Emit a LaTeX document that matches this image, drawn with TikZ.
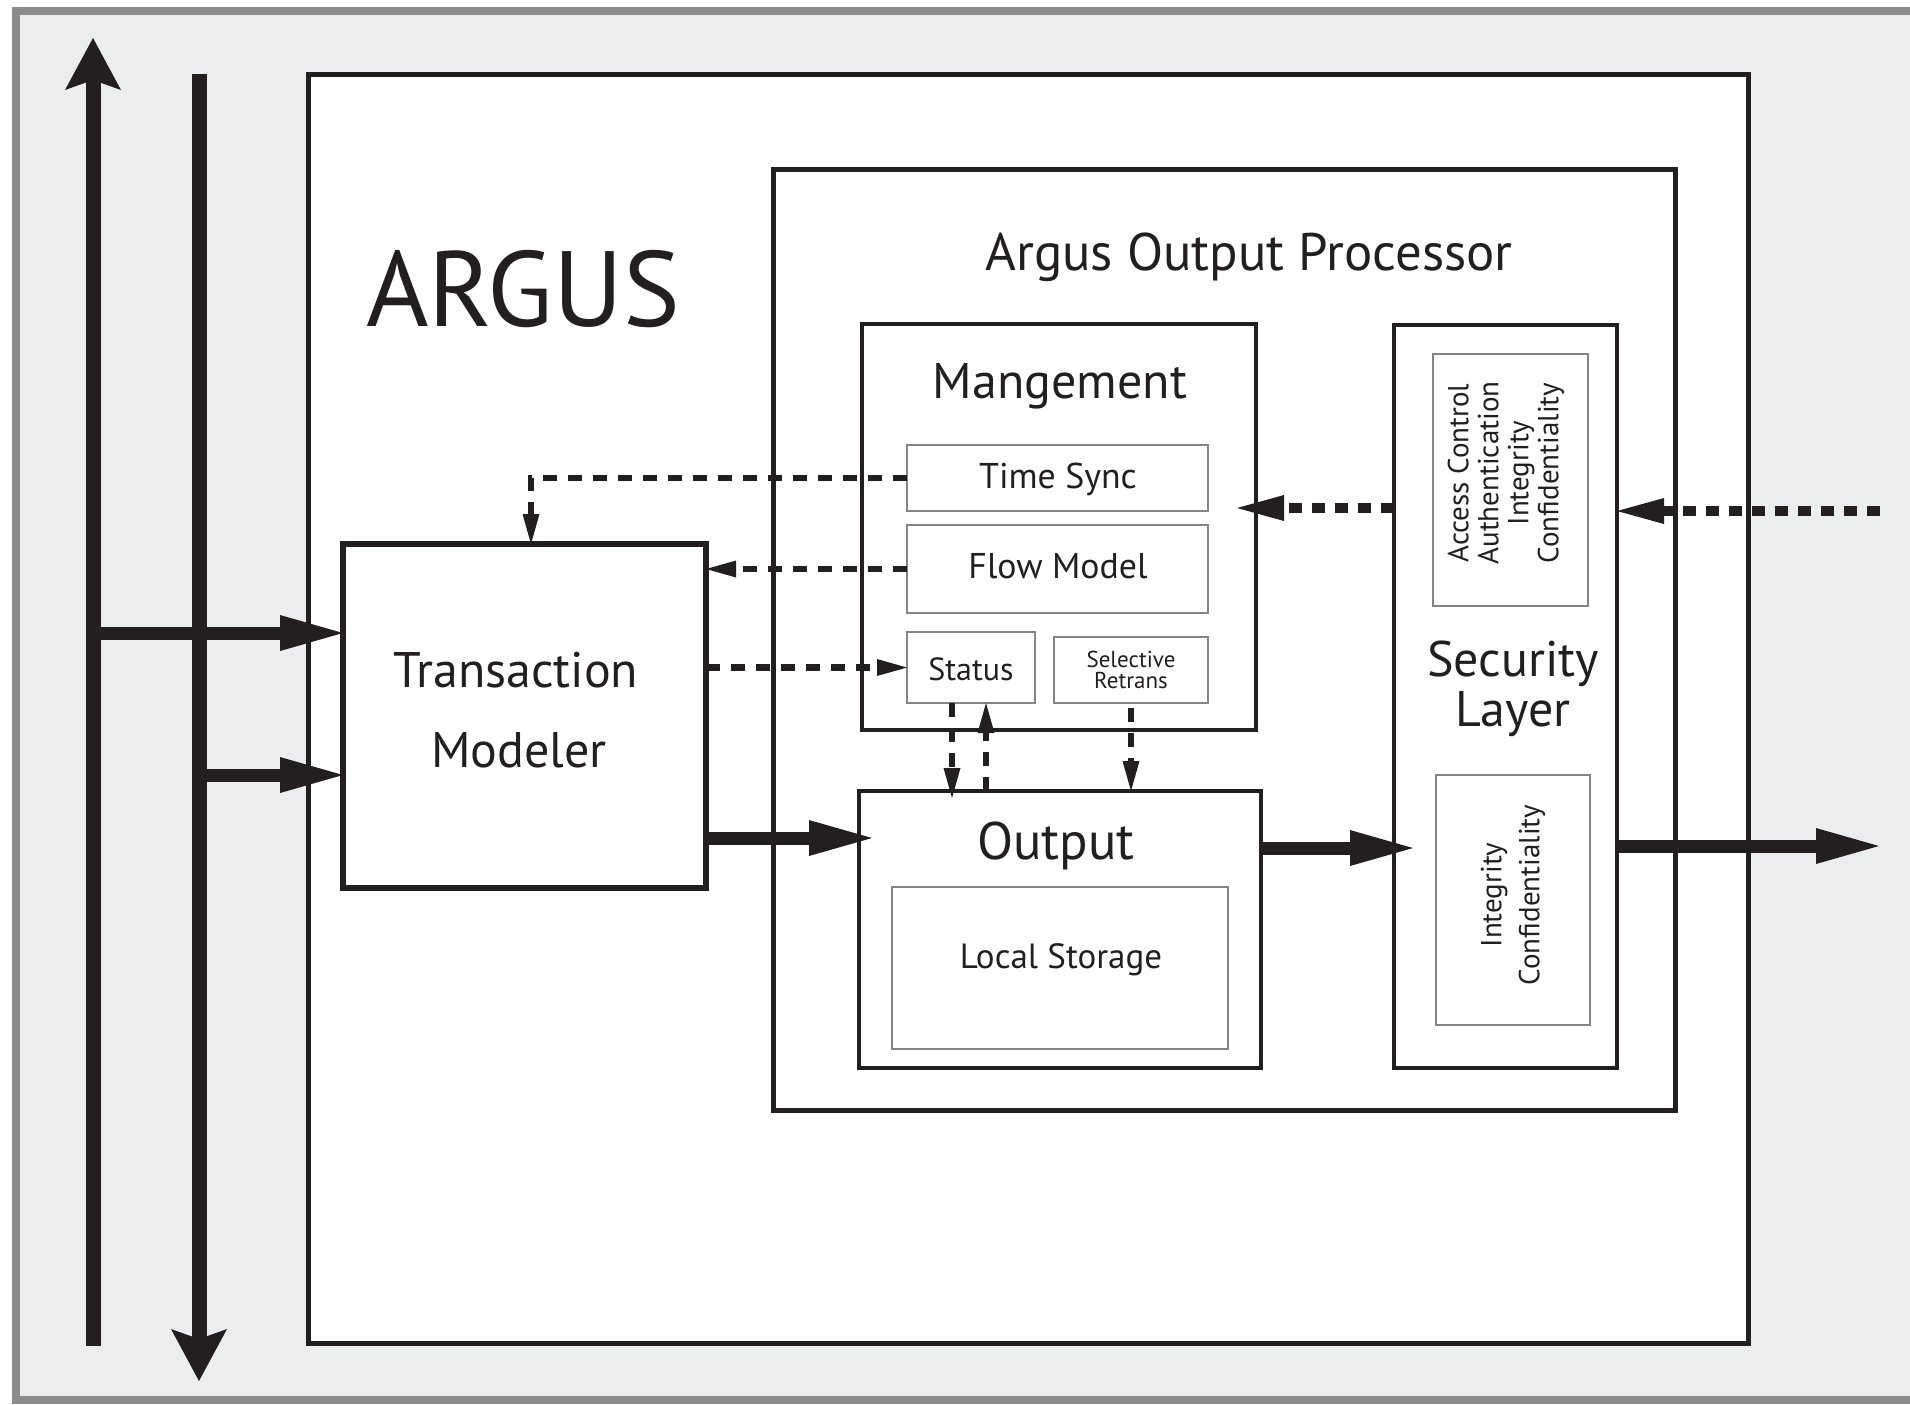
\documentclass[tikz,border=0pt]{standalone}
\usepackage{fontspec}
\setmainfont{PT Sans}
\usetikzlibrary{arrows.meta,calc}
\definecolor{inkc}{HTML}{231F20}
\definecolor{bggray}{HTML}{ECEDEF}
\definecolor{framegray}{HTML}{8C8C8C}
\definecolor{boxgray}{HTML}{858585}
\newcommand\fsz[2]{\fontsize{#1pt}{#2pt}\selectfont}
\begin{document}
\begin{tikzpicture}[x=0.5pt,y=-0.5pt,
  bigbox/.style={draw=inkc, line width=2.5pt, fill=white, inner sep=0pt, outer sep=0pt},
  midbox/.style={draw=inkc, line width=1.75pt, fill=white, inner sep=0pt, outer sep=0pt},
  smallbox/.style={draw=boxgray, line width=1pt, fill=white, inner sep=0pt, outer sep=0pt},
  lbl/.style={inner sep=0pt, outer sep=0pt, text=inkc, anchor=base},
  busline/.style={draw=inkc, line width=7.5pt},
  fat/.style={draw=inkc, line width=6.5pt, -{Triangle[length=31.5pt,width=18pt,line width=0pt]}},
  dsh/.style={draw=inkc, line width=3.25pt, dash pattern=on 7pt off 5.5pt, -{Triangle[length=15pt,width=8.5pt,line width=0pt]}},
  dots/.style={draw=inkc, line width=5pt, dash pattern=on 6.5pt off 5pt, -{Triangle[length=23.5pt,width=13pt,line width=0pt]}},
]
\useasboundingbox (0,0) rectangle (1910,1404);
\begin{scope}
\clip (0,0) rectangle (1910,1404);
\fill[white] (0,0) rectangle (1910,1404);
\draw[framegray, line width=4pt, fill=bggray] (16,11) rectangle (1980,1400);

% bus lines
\coordinate (b1bot) at (93,1346);
\coordinate (b1top) at (93,38);
\coordinate (b2top) at (199,74);
\coordinate (b2bot) at (199,1381);
\draw[busline, -{Stealth[length=26pt,width=28pt,inset=5pt,line width=0pt]}] (b1bot) -- (b1top);
\draw[busline, -{Stealth[length=26pt,width=28pt,inset=5pt,line width=0pt]}] (b2top) -- (b2bot);

% boxes
\node[bigbox, minimum width=720pt, minimum height=634.5pt] (argus) at (1028,708.5) {};
\node[bigbox, minimum width=451pt, minimum height=470.5pt] (aop) at (1224,639.5) {};
\node[midbox, minimum width=197pt, minimum height=203pt] (mgmt) at (1059,527) {};
\node[smallbox, minimum width=150.5pt, minimum height=33pt] (ts) at (1057.5,478) {};
\node[smallbox, minimum width=150.5pt, minimum height=44pt] (fm) at (1057.5,569) {};
\node[smallbox, minimum width=64pt, minimum height=35.5pt] (st) at (971,667.5) {};
\node[smallbox, minimum width=77pt, minimum height=33pt] (sr) at (1131,670) {};
\node[midbox, minimum width=201pt, minimum height=138.5pt] (out) at (1060,929.5) {};
\node[smallbox, minimum width=168pt, minimum height=81pt] (ls) at (1060,968) {};
\node[midbox, minimum width=111.5pt, minimum height=371.5pt] (sec) at (1505.5,696.5) {};
\node[smallbox, minimum width=77.5pt, minimum height=126pt] (sec1) at (1510.5,480) {};
\node[smallbox, minimum width=77pt, minimum height=125pt] (sec2) at (1513,900) {};
\node[bigbox, line width=2.75pt, minimum width=181.5pt, minimum height=172pt] (tm) at (524.5,716) {};

% texts
\node[lbl, font=\fsz{53.5}{60}] (targus) at (523,326) {ARGUS};
\node[lbl, font=\fsz{26.4}{30}] (taop) at (1249,270) {Argus Output Processor};
\node[lbl, font=\fsz{25}{30}] (tmgmt) at (1060,398) {Mangement};
\node[lbl, font=\fsz{17.9}{20}] (tts) at (1058,488) {Time Sync};
\node[lbl, font=\fsz{17.9}{20}] (tfm) at (1058,578) {Flow Model};
\node[lbl, font=\fsz{16}{18}] (tst) at (971,680) {Status};
\node[lbl, font=\fsz{11.5}{12}] (tsr1) at (1131,667) {Selective};
\node[lbl, font=\fsz{11.5}{12}] (tsr2) at (1131,688) {Retrans};
\node[lbl, font=\fsz{25}{30}] (tsec1) at (1513,676) {Security};
\node[lbl, font=\fsz{25}{30}] (tsec2) at (1513,726) {Layer};
\node[lbl, font=\fsz{25}{30}] (ttm1) at (516,687) {Transaction};
\node[lbl, font=\fsz{25}{30}] (ttm2) at (519,767) {Modeler};
\node[lbl, font=\fsz{26.4}{30}] (tout) at (1056,859) {Output};
\node[lbl, font=\fsz{17.5}{20}] (tls) at (1061,968) {Local Storage};
\node[lbl, anchor=center, rotate=90, align=center, font=\fsz{14.5}{15}] (tsec1txt) at (1506,473)
  {Access Control\\Authentication\\Integrity\\Confidentiality};
\node[lbl, anchor=center, rotate=90, align=center, font=\fsz{14.5}{19}] (tsec2txt) at (1513,895)
  {Integrity\\Confidentiality};

% level coordinates
\coordinate (lvA) at (0,633);
\coordinate (lvB) at (0,775);
\coordinate (lvC) at (0,838);
\coordinate (lvD) at (0,848);
\coordinate (lvE) at (0,508);
\coordinate (lvF) at (0,511);
\coordinate (b1j) at (b1top |- lvA);
\coordinate (b2j) at (b2top |- lvB);
\coordinate (exitR) at (1879,846);
\coordinate (extIn) at (1880,511);

% solid arrows
\draw[fat] (b1j) -- (tm.west |- lvA);
\draw[fat] (b2j) -- (tm.west |- lvB);
\draw[fat, shorten >=-6.5pt] (tm.east |- lvC) -- (out.west |- lvC);
\draw[fat, shorten >=-9.5pt] (out.east |- lvD) -- (sec.west |- lvD);
\draw[fat] (sec.east |- exitR) -- (exitR);

% dashed arrows
\draw[dsh] (ts.west) -| ([xshift=3.25pt]tm.north);
\draw[dsh] (fm.west) -- (fm.west -| tm.east);
\draw[dsh] (tm.east |- st.west) -- (st.west);
\draw[dsh, shorten >=-3.5pt] ([xshift=-9.5pt]st.south) -- ([xshift=-9.5pt]st.south |- out.north);
\draw[dsh] ([xshift=7.5pt]st.south |- out.north) -- ([xshift=7.5pt]st.south);
\draw[dsh, shorten <=2.5pt] (sr.south) -- (sr.south |- out.north);

% thick dotted arrows
\draw[dots, shorten >=-9.5pt] (sec.west |- lvE) -- (mgmt.east |- lvE);
\draw[dots] (extIn) -- (sec.east |- lvF);
\end{scope}
\end{tikzpicture}
\end{document}
